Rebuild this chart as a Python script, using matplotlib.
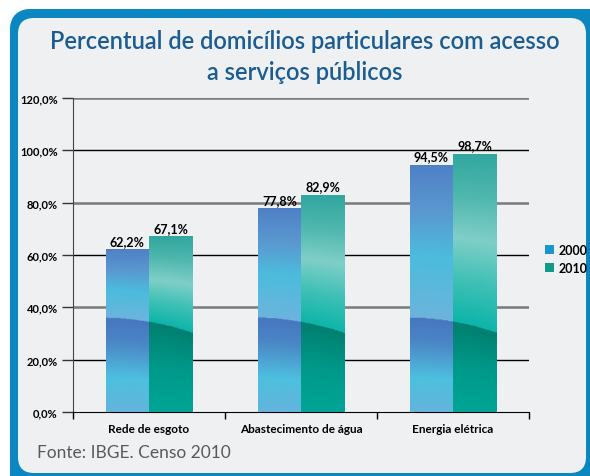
import matplotlib
matplotlib.use("Agg")
import matplotlib.pyplot as plt
import numpy as np
from matplotlib.patches import FancyBboxPatch
from matplotlib.colors import LinearSegmentedColormap, to_rgb

categories = ["Rede de esgoto", "Abastecimento de água", "Energia elétrica"]
series = ["2000", "2010"]
values_2000 = [62.2, 77.8, 94.5]
values_2010 = [67.1, 82.9, 98.7]
y_ticks = [0, 20, 40, 60, 80, 100, 120]
y_labels = ["0,0%", "20,0%", "40,0%", "60,0%", "80,0%", "100,0%", "120,0%"]

title = "Percentual de domicílios particulares com acesso\na serviços públicos"
source = "Fonte: IBGE. Censo 2010"

plt.rcParams['font.family'] = ['Lato', 'DejaVu Sans']

W, H = 590, 477
fig = plt.figure(figsize=(W / 100, H / 100), dpi=100)

# background frame (pixel coords)
bg = fig.add_axes([0, 0, 1, 1])
bg.set_xlim(0, W)
bg.set_ylim(H, 0)
bg.axis("off")
outer = FancyBboxPatch((10, 10), 600, 490, boxstyle="round,pad=0,rounding_size=22",
                       fc="#0a86c0", ec="none")
bg.add_patch(outer)
blue_cmap = LinearSegmentedColormap.from_list("frame", ["#0a8fc6", "#0b74ad", "#0d4f87"])
grad = np.linspace(0, 1, 256).reshape(1, -1)
im = bg.imshow(grad, extent=(10, 600, 500, 10), cmap=blue_cmap, aspect="auto")
im.set_clip_path(outer)
inner = FancyBboxPatch((18, 19), 568, 455, boxstyle="round,pad=0,rounding_size=16",
                       fc="#eef0f1", ec="none")
bg.add_patch(inner)
bg.set_xlim(0, W)
bg.set_ylim(H, 0)

fig.text(305 / W, 1 - 57 / H, title, ha="center", va="center", fontsize=17,
         fontweight="semibold", color="#1b5c93", linespacing=1.45)
fig.text(37 / W, 1 - 453 / H, source, ha="left", va="center", fontsize=12.5, color="#5a5a5a")

ax = fig.add_axes([73 / W, 1 - 413 / H, (529 - 73) / W, (413 - 99) / H])
ax.set_facecolor("none")
ax.set_xlim(0, 3)
ax.set_ylim(0, 120)

# gridlines alternate grey / black
for i, t in enumerate(y_ticks[1:]):
    if i % 2 == 0:
        ax.axhline(t, color="black", lw=1.0, zorder=1)
    else:
        ax.axhline(t, color="#7a7a7a", lw=1.8, zorder=1)

up_2000 = [(0, "#6cb4dc"), (0.4, "#4cbcdd"), (0.7, "#5a98d0"), (1, "#4f80c6")]
lo_2000 = [(0, "#63b4dc"), (0.35, "#4ec0df"), (0.75, "#4b86c6"), (1, "#4677c0")]
up_2010 = [(0, "#0db4a9"), (0.25, "#3fc0b6"), (0.5, "#7fcfc8"), (0.75, "#4fb7ae"), (1, "#31a79f")]
lo_2010 = [(0, "#00a596"), (0.5, "#00998a"), (1, "#007f6f")]


def interp(stops, s):
    pos = np.array([p for p, c in stops])
    cols = np.array([to_rgb(c) for p, c in stops])
    return np.stack([np.interp(s, pos, cols[:, k]) for k in range(3)], axis=-1)


width = 0.284
x = np.arange(len(categories)) + 0.5


def shade(bar, pair_left, up, lo):
    x0, w, h = bar.get_x(), bar.get_width(), bar.get_height()
    ny, nx = 300, 30
    xs = np.linspace(x0, x0 + w, nx)
    ys = np.linspace(0, h, ny)
    X, Y = np.meshgrid(xs, ys)
    t = (X - pair_left) / (2 * width)
    b = 36 - 0.6 * t - 5.2 * t ** 2
    s_lo = np.clip(Y / b, 0, 1)
    s_up = np.clip((Y - b) / (h - b), 0, 1)
    img = np.where((Y < b)[..., None], interp(lo, s_lo), interp(up, s_up))
    im = ax.imshow(img, extent=(x0, x0 + w, 0, h), origin="lower", aspect="auto",
                   zorder=3, interpolation="bilinear")
    im.set_clip_path(bar)


bars_a = ax.bar(x - width / 2, values_2000, width, color="#1a96d4", label=series[0],
                ec="#a9d6ec", lw=0.6, zorder=2)
bars_b = ax.bar(x + width / 2, values_2010, width, color="#0f9a8c", label=series[1],
                ec="#9fd8d2", lw=0.6, zorder=2)
for bar in bars_a:
    shade(bar, bar.get_x(), up_2000, lo_2000)
for bar in bars_b:
    shade(bar, bar.get_x() - width, up_2010, lo_2010)
ax.set_xlim(0, 3)
ax.set_ylim(0, 120)

for bars, vals in [(bars_a, values_2000), (bars_b, values_2010)]:
    for bar, v in zip(bars, vals):
        ax.text(bar.get_x() + bar.get_width() / 2, v + 1.0, f"{v:.1f}%".replace(".", ","),
                ha="center", va="bottom", fontsize=9, fontweight="bold", zorder=5)

ax.set_yticks(y_ticks)
ax.set_yticklabels(y_labels, fontsize=8, fontweight="bold")
ax.tick_params(axis="y", length=8, width=1, color="#333333", pad=3)
ax.set_xticks([0, 1, 2, 3])
ax.set_xticklabels([])
ax.tick_params(axis="x", which="major", length=5, width=1)
ax.set_xticks(x, minor=True)
ax.set_xticklabels(categories, minor=True, fontsize=8.5, fontweight="bold")
ax.tick_params(axis="x", which="minor", length=0, pad=8)
for sp in ["top", "right"]:
    ax.spines[sp].set_visible(False)
ax.spines["left"].set_color("#444444")
ax.spines["bottom"].set_color("black")

leg = fig.legend(handles=[bars_a[0], bars_b[0]], labels=series, loc="center left",
                 bbox_to_anchor=(536 / W, 1 - 260 / H), frameon=False, borderpad=0.2,
                 handlelength=0.7, handleheight=0.7, handletextpad=0.4, labelspacing=0.5,
                 prop={"weight": "bold", "size": 9})
for hnd in leg.legend_handles:
    hnd.set_edgecolor("none")

fig.savefig("out.png", dpi=100)
